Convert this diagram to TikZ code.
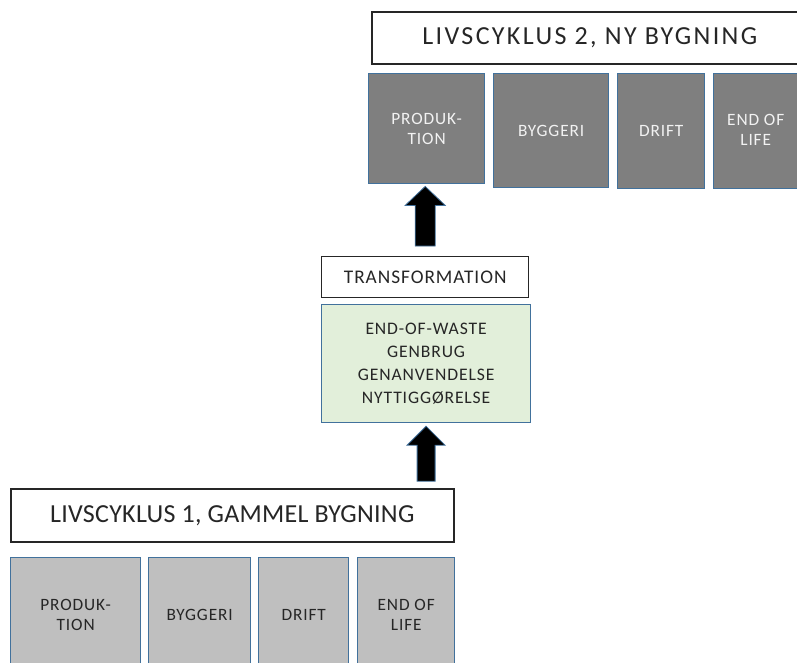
\documentclass[tikz,border=0pt]{standalone}
\usepackage{fontspec}
\setmainfont{Carlito}
\newfontfamily\headfontwide[LetterSpace=9]{Carlito}
\newfontfamily\headfont[LetterSpace=1]{Carlito}
\newfontfamily\smallfont[LetterSpace=5]{Carlito}
\usetikzlibrary{calc}
\definecolor{frameblue}{HTML}{41719C}
\definecolor{darkstage}{HTML}{7F7F7F}
\definecolor{lightstage}{HTML}{BFBFBF}
\definecolor{paleGreen}{HTML}{E2EFDA}
\definecolor{inkdark}{HTML}{262626}
\tikzset{
  header/.style={draw=inkdark, line width=1.6pt, fill=white, anchor=north west,
    inner sep=0pt, font=\headfont\fontsize{26}{30}\selectfont, text=inkdark},
  stagebox/.style={draw=frameblue, line width=1.4pt, anchor=north west, inner sep=0pt,
    align=center, font=\smallfont\fontsize{17.3}{20.5}\selectfont},
  newstage/.style={stagebox, fill=darkstage, text=white!90!darkstage},
  oldstage/.style={stagebox, fill=lightstage, text=inkdark},
  labelbox/.style={draw=inkdark, line width=1.4pt, fill=white, anchor=north west,
    inner sep=0pt, font=\smallfont\fontsize{19.3}{22}\selectfont, text=inkdark},
  wastebox/.style={draw=frameblue, line width=1.2pt, fill=paleGreen, anchor=north west,
    inner sep=0pt, align=center, font=\smallfont\fontsize{17.6}{23}\selectfont, text=inkdark},
  bigarrow/.style={fill=black, draw=frameblue, line width=0.8pt, line join=miter}
}
\begin{document}
\begin{tikzpicture}[x=1pt,y=-1pt]
  \useasboundingbox (0,0) rectangle (797,663);
  \clip (0,0) rectangle (797,663);

  % second life cycle: new building
  \node[header, font=\headfontwide\fontsize{26}{30}\selectfont,
        minimum width=460pt, minimum height=52pt] (head2) at (371,11)
    {\hspace*{-24pt}LIVSCYKLUS 2, NY BYGNING};
  \node[newstage, minimum width=116pt, minimum height=110pt] (prod2) at (368,73) {PRODUK-\\TION};
  \node[newstage, minimum width=115pt, minimum height=114pt] (bygg2) at (493,73) {BYGGERI};
  \node[newstage, minimum width=87pt, minimum height=115pt] (drift2) at (617,73) {DRIFT};
  \node[newstage, minimum width=110pt, minimum height=115pt] (eol2) at (713,73)
    {\hspace*{-26pt}\begin{tabular}{@{}c@{}}END OF\\LIFE\end{tabular}};

  % transformation step
  \node[labelbox, minimum width=207pt, minimum height=41pt] (trans) at (321,256) {TRANSFORMATION};
  \node[wastebox, minimum width=209pt, minimum height=118pt] (waste) at (321,304)
    {END-OF-WASTE\\GENBRUG\\GENANVENDELSE\\NYTTIGGØRELSE};

  % first life cycle: old building
  \node[header, minimum width=443pt, minimum height=53pt] (head1) at (10,488)
    {LIVSCYKLUS 1, GAMMEL BYGNING};
  \node[oldstage, minimum width=130pt, minimum height=114pt] (prod1) at (10,557) {PRODUK-\\TION};
  \node[oldstage, minimum width=102pt, minimum height=114pt] (bygg1) at (148,557) {BYGGERI};
  \node[oldstage, minimum width=90pt, minimum height=114pt] (drift1) at (258,557) {DRIFT};
  \node[oldstage, minimum width=97pt, minimum height=114pt] (eol1) at (357,557) {END OF\\LIFE};

  % block arrows
  \coordinate (up1base) at ($(waste.south)+(0,58)$);
  \coordinate (up1tip) at ($(waste.south)+(0,3)$);
  \draw[bigarrow] ($(up1base)+(-9,0)$) -- ($(up1tip)+(-9,19)$) -- ($(up1tip)+(-19,19)$)
    -- (up1tip) -- ($(up1tip)+(19,19)$) -- ($(up1tip)+(9,19)$) -- ($(up1base)+(9,0)$) -- cycle;

  \coordinate (up2base) at ($(trans.north)+(0,-10)$);
  \coordinate (up2tip) at ($(up2base |- prod2.south)+(0,2)$);
  \draw[bigarrow] ($(up2base)+(-10,0)$) -- ($(up2tip)+(-10,19)$) -- ($(up2tip)+(-20,19)$)
    -- (up2tip) -- ($(up2tip)+(20,19)$) -- ($(up2tip)+(10,19)$) -- ($(up2base)+(10,0)$) -- cycle;
\end{tikzpicture}
\end{document}
